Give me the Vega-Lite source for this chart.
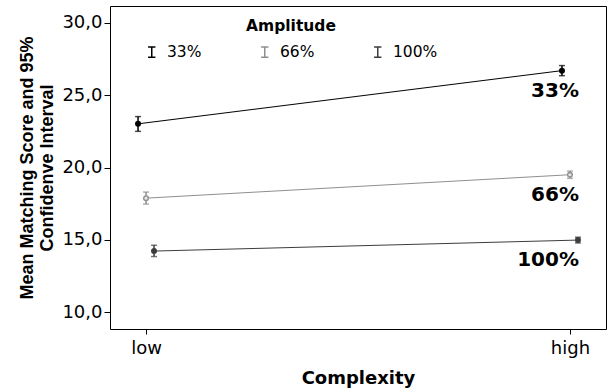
{
  "$schema": "https://vega.github.io/schema/vega-lite/v6.json",
  "width": 496,
  "height": 323,
  "autosize": {"type": "none"},
  "padding": {"left": 110, "top": 6, "right": 4, "bottom": 60},
  "background": "white",
  "data": {
    "values": [
      {"Complexity": "low", "Amplitude": "33%", "mean": 23.02, "lo": 22.5, "hi": 23.52},
      {"Complexity": "high", "Amplitude": "33%", "mean": 26.7, "lo": 26.35, "hi": 27.05},
      {"Complexity": "low", "Amplitude": "66%", "mean": 17.88, "lo": 17.47, "hi": 18.3},
      {"Complexity": "high", "Amplitude": "66%", "mean": 19.5, "lo": 19.25, "hi": 19.75},
      {"Complexity": "low", "Amplitude": "100%", "mean": 14.22, "lo": 13.84, "hi": 14.62},
      {"Complexity": "high", "Amplitude": "100%", "mean": 14.98, "lo": 14.78, "hi": 15.18}
    ]
  },
  "encoding": {
    "x": {
      "field": "Complexity",
      "type": "nominal",
      "sort": ["low", "high"],
      "scale": {"type": "point", "padding": 0.085},
      "axis": {
        "title": "Complexity",
        "labelAngle": 0,
        "labelFontSize": 18,
        "labelColor": "black",
        "labelPadding": 5,
        "tickSize": 5,
        "tickColor": "black",
        "domain": false,
        "titleFontSize": 18,
        "titleFontWeight": "bold",
        "titleColor": "black",
        "titlePadding": 12
      }
    },
    "xOffset": {
      "field": "Amplitude",
      "type": "nominal",
      "sort": ["33%", "66%", "100%"],
      "scale": {"type": "point", "range": [-8, 8], "padding": 0}
    },
    "color": {
      "field": "Amplitude",
      "type": "nominal",
      "sort": ["33%", "66%", "100%"],
      "scale": {"domain": ["33%", "66%", "100%"], "range": ["#000000", "#8f8f8f", "#3d3d3d"]},
      "legend": null
    }
  },
  "layer": [
    {
      "mark": {"type": "line", "strokeWidth": 1},
      "encoding": {
        "y": {
          "field": "mean",
          "type": "quantitative",
          "scale": {"domain": [8.83, 31.17], "nice": false, "zero": false},
          "axis": {
            "values": [10, 15, 20, 25, 30],
            "labelExpr": "replace(format(datum.value, '.1f'), '.', ',')",
            "grid": false,
            "domain": false,
            "tickSize": 6,
            "tickColor": "black",
            "labelPadding": 2,
            "labelFontSize": 18,
            "labelColor": "black",
            "title": ["Mean Matching Score and 95%", "Confidenve Interval"],
            "titleFont": "Liberation Sans",
            "titleFontSize": 18,
            "titleFontWeight": "bold",
            "titleLineHeight": 20,
            "titleColor": "black",
            "titlePadding": 5
          }
        },
        "color": {
          "field": "Amplitude",
          "type": "nominal",
          "sort": ["33%", "66%", "100%"],
          "legend": {
            "title": "Amplitude",
            "orient": "none",
            "legendX": 34,
            "legendY": 13,
            "direction": "horizontal",
            "columns": 3,
            "padding": 0,
            "titleAnchor": "middle",
            "titleFontSize": 15.5,
            "titleFontWeight": "bold",
            "titleColor": "black",
            "titlePadding": 9.5,
            "labelFontSize": 15.5,
            "labelColor": "black",
            "labelOffset": 7.5,
            "columnPadding": 55,
            "symbolType": "M-0.7,-1H0.7M0,-1V1M-0.7,1H0.7",
            "symbolSize": 110,
            "symbolStrokeWidth": 1.5
          }
        }
      }
    },
    {
      "mark": {"type": "rule", "strokeWidth": 1.5},
      "encoding": {
        "y": {"field": "lo", "type": "quantitative"},
        "y2": {"field": "hi"}
      }
    },
    {
      "transform": [{"fold": ["lo", "hi"], "as": ["end", "v"]}],
      "mark": {"type": "tick", "orient": "horizontal", "size": 6, "thickness": 1.5},
      "encoding": {
        "y": {"field": "v", "type": "quantitative"}
      }
    },
    {
      "mark": {"type": "point", "filled": true, "size": 36, "opacity": 1},
      "encoding": {
        "y": {"field": "mean", "type": "quantitative"}
      }
    },
    {
      "transform": [{"filter": "datum.Amplitude === '66%'"}],
      "mark": {"type": "point", "filled": true, "size": 10, "opacity": 1, "color": "#e6e6e6"},
      "encoding": {
        "y": {"field": "mean", "type": "quantitative"},
        "color": {"value": "#e6e6e6"}
      }
    },
    {
      "transform": [{"filter": "datum.Complexity === 'high'"}],
      "mark": {"type": "text", "align": "right", "baseline": "middle", "dx": 9, "dy": 20, "fontSize": 20, "fontWeight": "bold", "color": "black"},
      "encoding": {
        "xOffset": {"value": 0},
        "y": {"field": "mean", "type": "quantitative"},
        "text": {"field": "Amplitude"},
        "color": {"value": "black"}
      }
    }
  ],
  "config": {
    "font": "DejaVu Sans",
    "view": {"stroke": "black", "strokeWidth": 1},
    "axis": {"labelFont": "DejaVu Sans", "titleFont": "DejaVu Sans"},
    "legend": {"labelFont": "DejaVu Sans", "titleFont": "DejaVu Sans"}
  }
}
